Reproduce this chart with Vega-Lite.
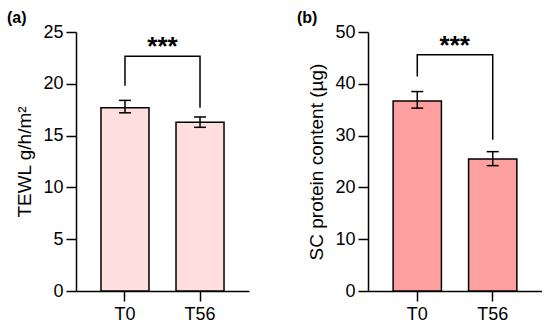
{
  "$schema": "https://vega.github.io/schema/vega-lite/v6.json",
  "padding": {"left": 7, "top": 10, "right": 0, "bottom": 0},
  "spacing": 48,
  "config": {
    "view": {"stroke": null},
    "font": "Liberation Sans",
    "axis": {
      "domainColor": "#000", "domainWidth": 1.5, "tickColor": "#000", "tickWidth": 1.5, "tickSize": 10,
      "labelColor": "#000", "titleColor": "#000", "labelFontSize": 18, "titleFontSize": 19,
      "titleFontWeight": "normal", "grid": false, "labelFont": "Liberation Sans", "titleFont": "Liberation Sans"
    },
    "title": {"anchor": "start", "frame": "group", "fontSize": 16, "fontWeight": "bold", "color": "#000", "font": "Liberation Sans"}
  },
  "datasets": {
    "tewl": [
      {"time": "T0", "mean": 17.7, "lo": 17.2, "hi": 18.4},
      {"time": "T56", "mean": 16.3, "lo": 15.8, "hi": 16.8}
    ],
    "tewl_sig": [
      {"time": "T0", "y": 19.8, "step": 1},
      {"time": "T0", "y": 22.65, "step": 2},
      {"time": "T56", "y": 22.65, "step": 3},
      {"time": "T56", "y": 17.7, "step": 4}
    ],
    "tewl_star": [{"time": "T0", "y": 22.65, "label": "***"}],
    "sc": [
      {"time": "T0", "mean": 36.7, "lo": 35.3, "hi": 38.5},
      {"time": "T56", "mean": 25.5, "lo": 24.2, "hi": 26.9}
    ],
    "sc_sig": [
      {"time": "T0", "y": 41.4, "step": 1},
      {"time": "T0", "y": 45.6, "step": 2},
      {"time": "T56", "y": 45.6, "step": 3},
      {"time": "T56", "y": 29.2, "step": 4}
    ],
    "sc_star": [{"time": "T0", "y": 45.6, "label": "***"}]
  },
  "hconcat": [
    {
      "title": {"text": "(a)", "dx": -69, "offset": -3},
      "width": 173,
      "height": 259,
      "layer": [
        {
          "data": {"name": "tewl"},
          "mark": {"type": "bar", "fill": "#FFDEDE", "stroke": "#000", "strokeWidth": 1.5},
          "encoding": {
            "x": {"field": "time", "type": "nominal", "title": null,
              "scale": {"paddingInner": 0.36, "paddingOuter": 0.333},
              "axis": {"labelAngle": 0, "labelPadding": 4}},
            "y": {"field": "mean", "type": "quantitative", "title": "TEWL g/h/m²",
              "scale": {"domain": [0, 25], "nice": false},
              "axis": {"values": [0, 5, 10, 15, 20, 25], "labelPadding": 3, "titlePadding": 8}}
          }
        },
        {
          "data": {"name": "tewl"},
          "mark": {"type": "rule", "strokeWidth": 1.5, "color": "#000"},
          "encoding": {
            "x": {"field": "time", "type": "nominal", "title": null},
            "y": {"field": "lo", "type": "quantitative", "title": "TEWL g/h/m²"},
            "y2": {"field": "hi"}
          }
        },
        {
          "data": {"name": "tewl"},
          "mark": {"type": "tick", "size": 12, "thickness": 1.5, "color": "#000", "opacity": 1},
          "encoding": {
            "x": {"field": "time", "type": "nominal", "title": null},
            "y": {"field": "lo", "type": "quantitative", "title": "TEWL g/h/m²"}
          }
        },
        {
          "data": {"name": "tewl"},
          "mark": {"type": "tick", "size": 12, "thickness": 1.5, "color": "#000", "opacity": 1},
          "encoding": {
            "x": {"field": "time", "type": "nominal", "title": null},
            "y": {"field": "hi", "type": "quantitative", "title": "TEWL g/h/m²"}
          }
        },
        {
          "data": {"name": "tewl_sig"},
          "mark": {"type": "line", "color": "#000", "strokeWidth": 1.5, "strokeJoin": "miter"},
          "encoding": {
            "x": {"field": "time", "type": "nominal", "title": null},
            "y": {"field": "y", "type": "quantitative", "title": "TEWL g/h/m²"},
            "order": {"field": "step"}
          }
        },
        {
          "data": {"name": "tewl_star"},
          "mark": {"type": "text", "dx": 37.5, "dy": -1, "baseline": "alphabetic", "fontSize": 26, "fontWeight": "bold", "color": "#000"},
          "encoding": {
            "x": {"field": "time", "type": "nominal", "title": null},
            "y": {"field": "y", "type": "quantitative", "title": "TEWL g/h/m²"},
            "text": {"field": "label"}
          }
        }
      ]
    },
    {
      "title": {"text": "(b)", "dx": -71, "offset": -3},
      "width": 174,
      "height": 259,
      "layer": [
        {
          "data": {"name": "sc"},
          "mark": {"type": "bar", "fill": "#FFA0A0", "stroke": "#000", "strokeWidth": 1.5},
          "encoding": {
            "x": {"field": "time", "type": "nominal", "title": null,
              "scale": {"paddingInner": 0.36, "paddingOuter": 0.333},
              "axis": {"labelAngle": 0, "labelPadding": 4}},
            "y": {"field": "mean", "type": "quantitative", "title": "SC protein content (µg)",
              "scale": {"domain": [0, 50], "nice": false},
              "axis": {"values": [0, 10, 20, 30, 40, 50], "labelPadding": 3, "titlePadding": 8}}
          }
        },
        {
          "data": {"name": "sc"},
          "mark": {"type": "rule", "strokeWidth": 1.5, "color": "#000"},
          "encoding": {
            "x": {"field": "time", "type": "nominal", "title": null},
            "y": {"field": "lo", "type": "quantitative", "title": "SC protein content (µg)"},
            "y2": {"field": "hi"}
          }
        },
        {
          "data": {"name": "sc"},
          "mark": {"type": "tick", "size": 12, "thickness": 1.5, "color": "#000", "opacity": 1},
          "encoding": {
            "x": {"field": "time", "type": "nominal", "title": null},
            "y": {"field": "lo", "type": "quantitative", "title": "SC protein content (µg)"}
          }
        },
        {
          "data": {"name": "sc"},
          "mark": {"type": "tick", "size": 12, "thickness": 1.5, "color": "#000", "opacity": 1},
          "encoding": {
            "x": {"field": "time", "type": "nominal", "title": null},
            "y": {"field": "hi", "type": "quantitative", "title": "SC protein content (µg)"}
          }
        },
        {
          "data": {"name": "sc_sig"},
          "mark": {"type": "line", "color": "#000", "strokeWidth": 1.5, "strokeJoin": "miter"},
          "encoding": {
            "x": {"field": "time", "type": "nominal", "title": null},
            "y": {"field": "y", "type": "quantitative", "title": "SC protein content (µg)"},
            "order": {"field": "step"}
          }
        },
        {
          "data": {"name": "sc_star"},
          "mark": {"type": "text", "dx": 37.5, "dy": -1, "baseline": "alphabetic", "fontSize": 26, "fontWeight": "bold", "color": "#000"},
          "encoding": {
            "x": {"field": "time", "type": "nominal", "title": null},
            "y": {"field": "y", "type": "quantitative", "title": "SC protein content (µg)"},
            "text": {"field": "label"}
          }
        }
      ]
    }
  ]
}
